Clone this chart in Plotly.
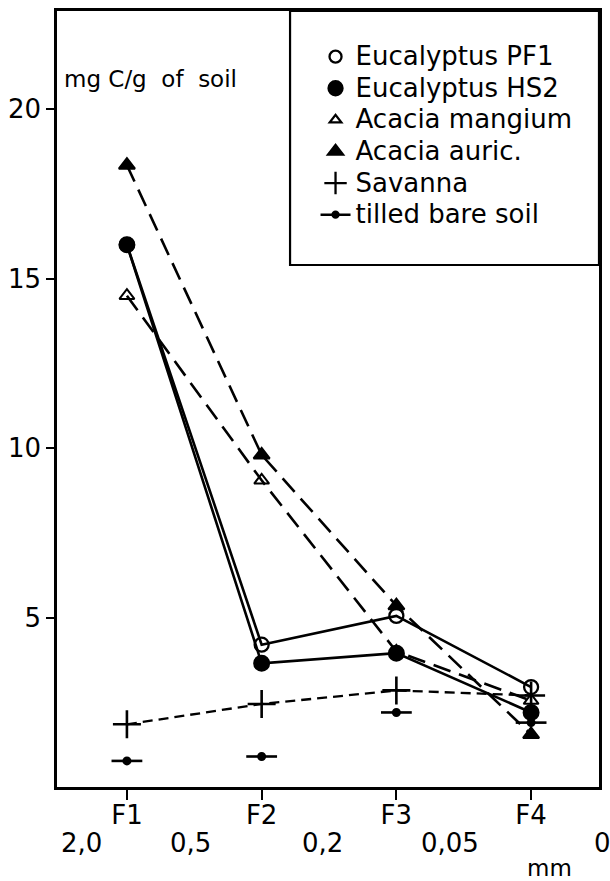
import plotly.graph_objects as go

# ---- data ----
fractions = ["F1", "F2", "F3", "F4"]
x_pos = [1, 2, 3, 4]
pf1 = [16.0, 4.2, 5.05, 2.95]        # Eucalyptus PF1
hs2 = [16.0, 3.65, 3.95, 2.2]        # Eucalyptus HS2
mangium = [14.5, 9.05, 4.0, 2.55]    # Acacia mangium
auric = [18.35, 9.8, 5.35, 1.55]     # Acacia auric.
savanna = [1.85, 2.45, 2.85, 2.7]    # Savanna
tilled = [0.77, 0.9, 2.2, 1.9]       # tilled bare soil
y_ticks = [5, 10, 15, 20]
size_labels = ["2,0", "0,5", "0,2", "0,05", "0"]
size_label_pos = [0.66, 1.47, 2.45, 3.40]   # last label sits beyond the axis end

FONT = "DejaVu Sans"
BLACK = "black"

fig = go.Figure()

def add(y, mode, symbol, size, dash="solid", lw=2.5, mlw=2.0, name=None):
    fig.add_trace(go.Scatter(
        x=x_pos, y=y, mode=mode, showlegend=False, name=name,
        line=dict(color=BLACK, width=lw, dash=dash),
        marker=dict(symbol=symbol, size=size, color=BLACK,
                    line=dict(color=BLACK, width=mlw)),
        cliponaxis=False))

add(savanna, "lines+markers", "cross-thin", 20, dash="10px,6px", lw=2.3, mlw=2.6)
add(tilled, "markers", "line-ew", 22, mlw=2.6)
add(tilled, "markers", "circle", 7)
add(mangium, "lines+markers", "triangle-up-open", 13, dash="18px,9px", lw=2.6)
add(auric, "lines+markers", "triangle-up", 14, dash="18px,9px", lw=2.6)
add(hs2, "lines+markers", "circle", 15, lw=2.6)
add(pf1, "lines+markers", "circle-open", 14, lw=2.6, mlw=2.3)

# legend-only entries
legend_items = [
    ("Eucalyptus PF1", "markers", "circle-open", 12),
    ("Eucalyptus HS2", "markers", "circle", 14),
    ("Acacia mangium", "markers", "triangle-up-open", 10),
    ("Acacia auric.", "markers", "triangle-up", 13),
    ("Savanna", "markers", "cross-thin", 19),
    ("tilled bare soil", "lines+markers", "circle", 6),
]
for name, mode, sym, sz in legend_items:
    fig.add_trace(go.Scatter(
        x=[None], y=[None], mode=mode,
        name="<span style='font-size:26px'>" + name + "</span>",
        showlegend=True,
        line=dict(color=BLACK, width=2.5),
        marker=dict(symbol=sym, size=sz, color=BLACK,
                    line=dict(color=BLACK, width=2.3))))

annotations = []
for lab, pos in zip(size_labels[:-1], size_label_pos):
    annotations.append(dict(x=pos, y=-0.072, xref="x", yref="paper",
                            text=lab, showarrow=False, xanchor="center",
                            yanchor="middle", font=dict(size=26, family=FONT, color=BLACK)))
annotations.append(dict(x=0.988, y=-0.072, xref="paper", yref="paper",
                        text=size_labels[-1], showarrow=False, xanchor="left",
                        yanchor="middle", font=dict(size=26, family=FONT, color=BLACK)))
annotations.append(dict(x=4.14, y=-0.104, xref="x", yref="paper", text="mm",
                        showarrow=False, xanchor="center", yanchor="middle",
                        font=dict(size=23, family=FONT, color=BLACK)))
annotations.append(dict(x=0.010, y=0.913, xref="paper", yref="paper",
                        text="mg C/g  of  soil", showarrow=False, xanchor="left",
                        yanchor="middle", font=dict(size=23, family=FONT, color=BLACK)))

fig.update_layout(
    width=610, height=881,
    margin=dict(l=56, r=10, t=8, b=94),
    paper_bgcolor="white", plot_bgcolor="white",
    font=dict(family=FONT, color=BLACK, size=24),
    annotations=annotations,
    shapes=[dict(type="rect", xref="paper", yref="paper",
                 x0=0.43, x1=1.0, y0=0.6727, y1=1.0,
                 line=dict(color=BLACK, width=2.2), fillcolor="rgba(0,0,0,0)")],
    legend=dict(x=0.477, y=0.968, xanchor="left", yanchor="top",
                bgcolor="rgba(0,0,0,0)", borderwidth=0,
                font=dict(size=22, family=FONT, color=BLACK),
                tracegroupgap=0),
    xaxis=dict(range=[0.481, 4.504], tickmode="array", tickvals=x_pos,
               ticktext=fractions, ticks="outside", ticklen=10, tickwidth=2,
               tickcolor=BLACK, showline=True, linewidth=2.5, linecolor=BLACK,
               mirror=True, showgrid=False, zeroline=False,
               ticklabelstandoff=-7,
               tickfont=dict(size=26, family=FONT, color=BLACK)),
    yaxis=dict(range=[0, 22.9], tickmode="array", tickvals=y_ticks,
               ticks="outside", ticklen=8, tickwidth=2, tickcolor=BLACK,
               showline=True, linewidth=2.5, linecolor=BLACK, mirror=True,
               showgrid=False, zeroline=False,
               tickfont=dict(size=26, family=FONT, color=BLACK)),
)

fig.write_html("out.html", config={"displayModeBar": False},
               post_script="document.body.style.margin='0px';")
